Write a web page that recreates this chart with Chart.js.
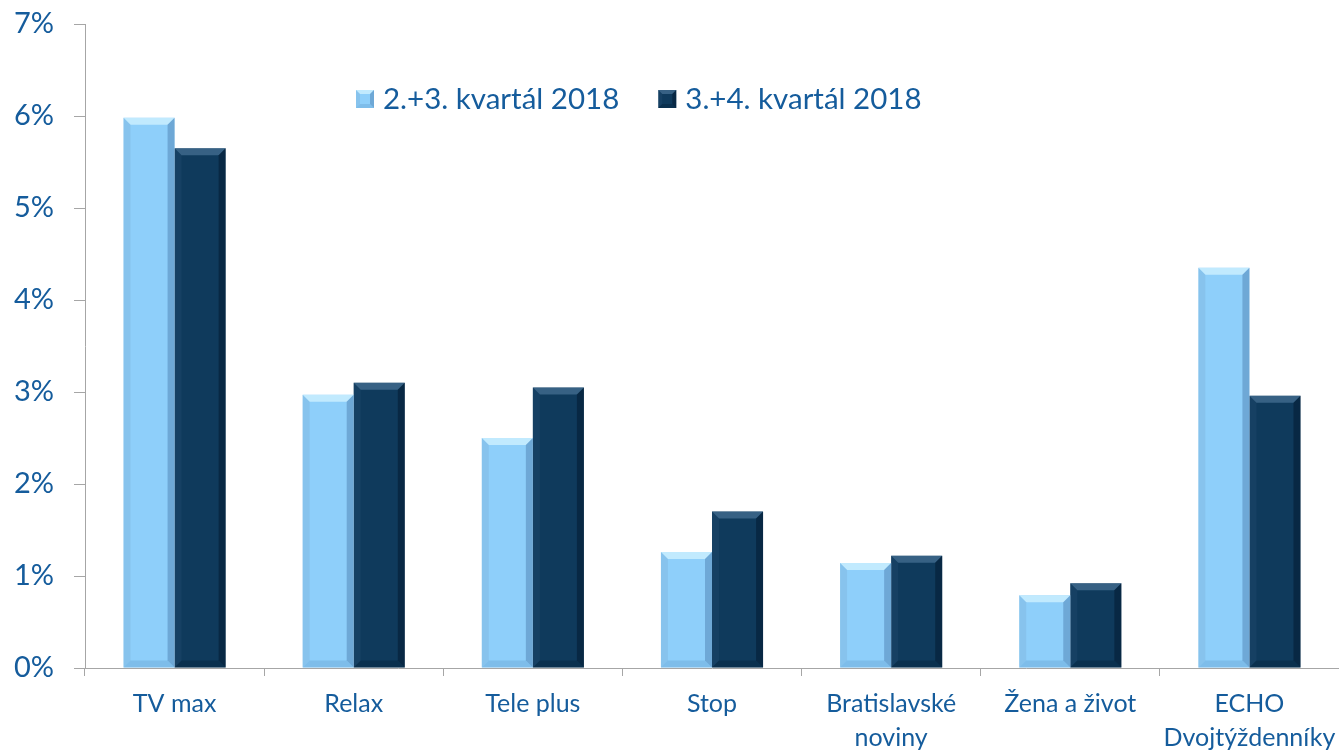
<!DOCTYPE html>
<html>
<head>
<meta charset="utf-8">
<script src="https://cdn.jsdelivr.net/npm/chart.js@4"></script>
<style>
  html, body { margin: 0; padding: 0; background: #fff; }
  #wrap { width: 1339px; height: 752px; position: relative; }
</style>
</head>
<body>
<div id="wrap"><canvas id="barChart"></canvas></div>
<script>
// categories and values (share in %)
const categories = [
    'TV max', 'Relax', 'Tele plus', 'Stop',
    ['Bratislavské', 'noviny'], 'Žena a život', ['ECHO', 'Dvojtýždenníky']
];
const seriesNames = ['2.+3. kvartál 2018', '3.+4. kvartál 2018'];
const q23 = [5.98, 2.97, 2.50, 1.26, 1.14, 0.79, 4.35];
const q34 = [5.65, 3.10, 3.05, 1.70, 1.22, 0.92, 2.96];

const textColor = '#155c9c';
const fontFamily = 'Lato, "Open Sans", sans-serif';
const colors = ['#8ecffa', '#0f3a5c'];

// small bevel look on each bar, drawn from the bar elements' own geometry
function bevel(ctx, l, r, t, b, d, light) {
    ctx.save();
    ctx.fillStyle = light ? 'rgba(215,245,255,0.7)' : 'rgba(90,130,165,0.55)';
    ctx.beginPath();
    ctx.moveTo(l, t); ctx.lineTo(r, t); ctx.lineTo(r - d, t + d); ctx.lineTo(l + d, t + d);
    ctx.closePath(); ctx.fill();
    ctx.fillStyle = light ? 'rgba(120,170,210,0.3)' : 'rgba(40,80,115,0.3)';
    ctx.beginPath();
    ctx.moveTo(l, t); ctx.lineTo(l + d, t + d); ctx.lineTo(l + d, b - d); ctx.lineTo(l, b);
    ctx.closePath(); ctx.fill();
    ctx.fillStyle = light ? 'rgba(70,120,170,0.45)' : 'rgba(0,20,40,0.45)';
    ctx.beginPath();
    ctx.moveTo(r, t); ctx.lineTo(r - d, t + d); ctx.lineTo(r - d, b - d); ctx.lineTo(r, b);
    ctx.closePath(); ctx.fill();
    ctx.fillStyle = light ? 'rgba(90,150,200,0.3)' : 'rgba(0,25,45,0.3)';
    ctx.beginPath();
    ctx.moveTo(l, b); ctx.lineTo(l + d, b - d); ctx.lineTo(r - d, b - d); ctx.lineTo(r, b);
    ctx.closePath(); ctx.fill();
    ctx.restore();
}

const bevelPlugin = {
    id: 'bevel',
    afterDatasetsDraw(chart) {
        chart.data.datasets.forEach((ds, i) => {
            chart.getDatasetMeta(i).data.forEach(bar => {
                bevel(chart.ctx, bar.x - bar.width / 2, bar.x + bar.width / 2, bar.y, bar.base, 7, i === 0);
            });
        });
    }
};

// legend drawn inside the plot area
const innerLegend = {
    id: 'innerLegend',
    afterDraw(chart) {
        const ctx = chart.ctx;
        ctx.save();
        ctx.font = '29.5px ' + fontFamily;
        ctx.textBaseline = 'middle';
        const y = 99;
        let x = 356;
        chart.data.datasets.forEach((ds, i) => {
            ctx.fillStyle = ds.backgroundColor;
            ctx.fillRect(x, y - 9, 18, 18);
            bevel(ctx, x, x + 18, y - 9, y + 9, 4, i === 0);
            ctx.fillStyle = textColor;
            ctx.fillText(ds.label, x + 27, y);
            x += 27 + ctx.measureText(ds.label).width + 39;
        });
        ctx.restore();
    }
};

const ctx = document.getElementById('barChart');
new Chart(ctx, {
    type: 'bar',
    data: {
        labels: categories,
        datasets: seriesNames.map((name, i) => ({
            label: name,
            data: i === 0 ? q23 : q34,
            backgroundColor: colors[i],
            borderWidth: 0,
            categoryPercentage: 0.57,
            barPercentage: 1
        }))
    },
    options: {
        responsive: true,
        maintainAspectRatio: false,
        animation: false,
        layout: { padding: 0 },
        plugins: {
            legend: { display: false },
            tooltip: { enabled: false }
        },
        scales: {
            y: {
                min: 0,
                max: 7,
                afterFit(scale) {
                    scale.width = 85;
                    scale.paddingTop = 24;
                    scale.paddingBottom = 0;
                },
                ticks: {
                    stepSize: 1,
                    padding: 20,
                    color: textColor,
                    font: { family: fontFamily, size: 29 },
                    callback: v => v + '%'
                },
                grid: { display: true, drawOnChartArea: false, tickLength: 11, color: '#a6a6a6' },
                border: { color: '#a6a6a6' }
            },
            x: {
                afterFit(scale) {
                    scale.height = 84;
                    scale.paddingLeft = 0;
                    scale.paddingRight = 0;
                },
                ticks: {
                    color: textColor,
                    padding: 11,
                    font: { family: fontFamily, size: 25, lineHeight: 1.36 },
                    maxRotation: 0,
                    autoSkip: false
                },
                grid: { display: true, drawOnChartArea: false, tickLength: 8, color: '#a6a6a6' },
                border: { color: '#a6a6a6' }
            }
        }
    },
    plugins: [bevelPlugin, innerLegend]
});
</script>
</body>
</html>
